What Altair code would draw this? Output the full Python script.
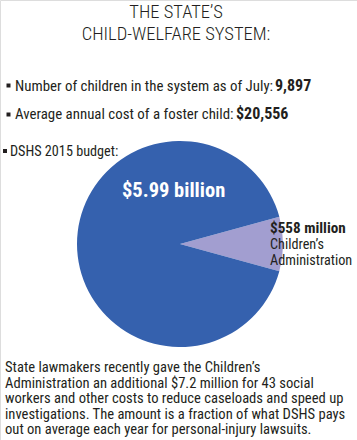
import math
import altair as alt
import pandas as pd

# ---- data ----
title_lines = ["THE STATE\u2019S", "CHILD-WELFARE SYSTEM:"]
fact_labels = ["Number of children in the system as of July:", "Average annual cost of a foster child:"]
fact_values = ["9,897", "$20,556"]
pie_heading = "DSHS 2015 budget:"
segments = ["Children\u2019s Administration", "DSHS"]
budget_millions = [558, 5990]
segment_labels = ["$558 million", "$5.99 billion"]
ca_label_lines = ["Children\u2019s", "Administration"]
note_lines = [
    "State lawmakers recently gave the Children\u2019s",
    "Administration an additional $7.2 million for 43 social",
    "workers and other costs to reduce caseloads and speed up",
    "investigations. The amount is a fraction of what DSHS pays",
    "out on average each year for personal-injury lawsuits.",
]

FONT = "Roboto Condensed"
DARK = "#231f20"
BLUE = "#3561ae"
LAV = "#a29ed0"

W, H = 357, 440

pie_df = pd.DataFrame({"segment": segments, "value": budget_millions, "order": [0, 1]})
total = sum(budget_millions)
start = math.pi / 2 - math.pi * budget_millions[0] / total

pie = alt.Chart(pie_df).mark_arc(radius=103, stroke=None).encode(
    theta=alt.Theta("value:Q", stack=True, scale=alt.Scale(range=[start, start + 2 * math.pi])),
    order=alt.Order("order:Q"),
    color=alt.Color("segment:N", scale=alt.Scale(domain=segments, range=[LAV, BLUE]), legend=None),
    x=alt.value(180),
    y=alt.value(244),
)

def txt(text, x, y, size, weight="normal", color=DARK, align="left", **kw):
    return alt.Chart(pd.DataFrame({"t": [text]})).mark_text(
        font=FONT, fontSize=size, fontWeight=weight, color=color, align=align,
        baseline="alphabetic", **kw
    ).encode(text="t:N", x=alt.value(x), y=alt.value(y))

def bullet(x, y, s):
    return alt.Chart(pd.DataFrame({"a": [0]})).mark_rect(color=DARK).encode(
        x=alt.value(x), x2=alt.value(x + s), y=alt.value(y), y2=alt.value(y + s)
    )

layers = [
    pie,
    txt(title_lines[0], 176, 18, 18.5, weight=300, align="center"),
    txt(title_lines[1], 176, 40, 18.5, weight=300, align="center"),
    bullet(6.5, 83.5, 4),
    txt(fact_labels[0], 15, 91, 14.9),
    txt(fact_values[0], 275, 91, 16, weight="bold"),
    bullet(6.5, 112.5, 4),
    txt(fact_labels[1], 15, 119, 14.9),
    txt(fact_values[1], 236, 119, 16, weight="bold"),
    bullet(3, 149, 4),
    txt(pie_heading, 10, 156, 14.2),
    txt(segment_labels[1], 122, 197, 20.5, weight="bold", color="white"),
    txt(segment_labels[0], 270, 233, 15.2, weight="bold"),
    txt(ca_label_lines[0], 270, 249, 14.2),
    txt(ca_label_lines[1], 270, 265, 14.2),
]
for i, line in enumerate(note_lines):
    layers.append(txt(line, 5, 372 + 15.5 * i, 14.6))

chart = alt.layer(*layers).properties(
    width=W, height=H, padding=0, autosize=alt.AutoSizeParams(type="none")
).configure_view(stroke=None).configure(background="white")

chart.save("out.html", embed_options={"renderer": "svg", "actions": False})
